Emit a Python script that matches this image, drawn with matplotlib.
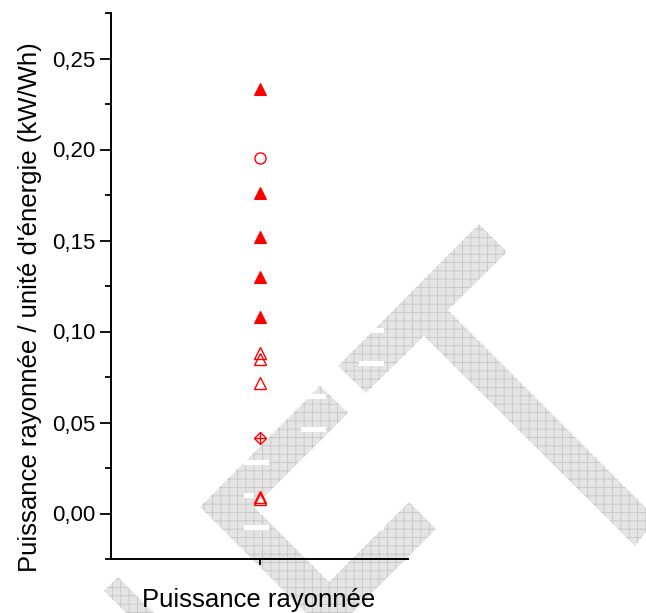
import matplotlib
matplotlib.use("Agg")
import matplotlib.pyplot as plt
from matplotlib.patches import Polygon, Rectangle
from matplotlib.ticker import MultipleLocator, FuncFormatter

plt.rcParams['font.family'] = ['Liberation Sans', 'DejaVu Sans']
plt.rcParams['hatch.linewidth'] = 0.6

# Radiated power per unit of energy (kW/Wh) for the different sources
x_pos = 1
filled_triangles = [0.233, 0.176, 0.152, 0.130, 0.108]
open_triangles = [0.088, 0.085, 0.0717, 0.0090, 0.0080]
open_circles = [0.1955]
crossed_diamonds = [0.0416]

yticks = [0.00, 0.05, 0.10, 0.15, 0.20, 0.25]
xlabel = "Puissance rayonnée"
ylabel = "Puissance rayonnée / unité d'énergie (kW/Wh)"

W, H = 646, 613
fig = plt.figure(figsize=(W / 100, H / 100), dpi=100)


def px(points):
    """Pixel coordinates (origin top-left) to figure fractions."""
    return [(x / W, 1 - y / H) for x, y in points]


# Grey hatched background stamp
stamp_shapes = [
    [(338, 366), (479, 224), (507, 252), (448, 310), (658, 520), (646, 532),
     (635, 546), (424, 336), (366, 393)],
    [(320, 386), (348, 413), (254, 507), (329, 582), (409, 502), (436, 529),
     (329, 636), (200, 507)],
    [(104, 591), (118, 577), (154, 613), (126, 613)],
]
for shape in stamp_shapes:
    fig.add_artist(Polygon(px(shape), closed=True, transform=fig.transFigure,
                           facecolor='#e4e4e4', edgecolor='#c6c6c6',
                           hatch='++', linewidth=0, zorder=-2))

stamp_gaps = [(244, 269, 462), (244, 254, 495), (244, 269, 527),
              (301, 326, 429), (303, 326, 396), (359, 384, 363),
              (370, 384, 330), (373, 384, 527)]
for x0, x1, yc in stamp_gaps:
    fig.add_artist(Rectangle((x0 / W, 1 - (yc + 2.5) / H), (x1 - x0) / W, 5 / H,
                             transform=fig.transFigure, facecolor='white',
                             edgecolor='none', zorder=-1))

ax = fig.add_axes([111 / W, 1 - 559 / H, (408 - 111) / W, (559 - 13) / H])
ax.patch.set_alpha(0)

red = '#ff0000'
ax.plot([x_pos] * len(filled_triangles), filled_triangles, linestyle='none',
        marker='^', ms=8.8, mfc=red, mec=red, mew=0.8, clip_on=False)
ax.plot([x_pos] * len(open_triangles), open_triangles, linestyle='none',
        marker='^', ms=8.8, mfc='none', mec=red, mew=1.0, clip_on=False)
ax.plot([x_pos] * len(open_circles), open_circles, linestyle='none',
        marker='o', ms=8.0, mfc='none', mec=red, mew=1.0)
ax.plot([x_pos] * len(crossed_diamonds), crossed_diamonds, linestyle='none',
        marker='D', ms=6.6, mfc='none', mec=red, mew=1.0)
ax.plot([x_pos] * len(crossed_diamonds), crossed_diamonds, linestyle='none',
        marker='+', ms=9.0, mfc='none', mec=red, mew=1.0)

ax.set_xlim(0, 2)
ax.set_ylim(-0.025, 0.275)
ax.set_xticks([x_pos])
ax.set_xticklabels([''])
ax.set_yticks(yticks)
ax.yaxis.set_minor_locator(MultipleLocator(0.025))
ax.yaxis.set_major_formatter(FuncFormatter(lambda v, p: f"{v:.2f}".replace('.', ',')))

for side in ('top', 'right'):
    ax.spines[side].set_visible(False)
for side in ('left', 'bottom'):
    ax.spines[side].set_linewidth(1.4)

ax.tick_params(axis='y', which='major', length=8, width=1.3, labelsize=16, pad=3)
ax.tick_params(axis='y', which='minor', length=4.5, width=1.3)
ax.tick_params(axis='x', which='major', length=4, width=1.3)

fig.text(259 / W, 1 - 600 / H, xlabel, ha='center', va='center', fontsize=18.5)
fig.text(30 / W, 1 - 307 / H, ylabel, ha='center', va='center', rotation=90,
         fontsize=18.5)

fig.savefig('out.png', dpi=100, facecolor='white')
